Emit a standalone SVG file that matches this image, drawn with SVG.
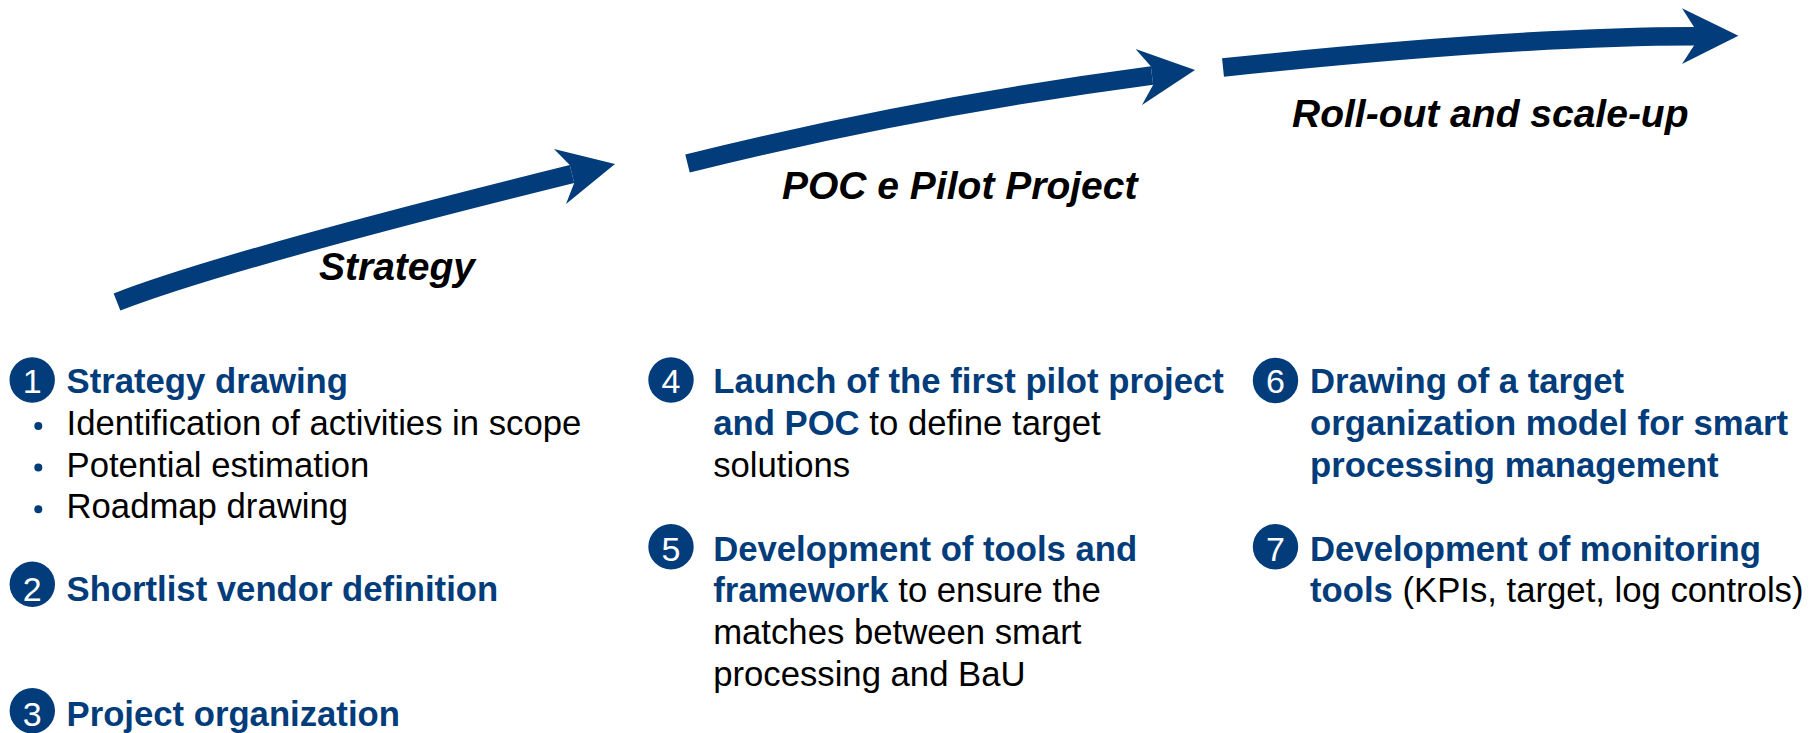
<svg xmlns="http://www.w3.org/2000/svg" width="1817" height="733" viewBox="0 0 1817 733">
<style>
.shaft{fill:none;stroke:#023c7a;stroke-width:18.5;stroke-linecap:butt}
.head{fill:#023c7a}
.phase{font-family:"Liberation Sans",Arial,sans-serif;font-size:39px;font-weight:bold;font-style:italic;fill:#000}
.t{font-family:"Liberation Sans",Arial,sans-serif;font-size:34.7px;fill:#000}
.b{font-weight:bold;fill:#023c7a}
.num{font-family:"Liberation Sans",Arial,sans-serif;font-size:34px;fill:#fff;text-anchor:middle}
.circ{fill:#023c7a}
.dot{fill:#023c7a}
</style>
<rect width="1817" height="733" fill="#fff"/>
<g id="connectors">
<path class="shaft" d="M117,302 Q225,260 572,174"/>
<polygon class="head" points="554,149 615,164 566,204 574.2,183 569.8,165"/>
<path class="shaft" d="M687.5,163.5 Q914,107 1152,75.5"/>
<polygon class="head" points="1135.6,49 1195,70 1142,105 1153.2,84.7 1150.8,66.3"/>
<path class="shaft" d="M1223,67.5 Q1521,36.2 1694,36.2"/>
<polygon class="head" points="1682,8.3 1738.4,35.7 1682,64 1694,45.5 1694,27"/>
</g>
<g id="phase-strategy"><text class="phase" x="319" y="280">Strategy</text></g>
<g id="phase-poc"><text class="phase" x="782" y="199">POC e Pilot Project</text></g>
<g id="phase-rollout"><text class="phase" x="1292" y="127">Roll-out and scale-up</text></g>
<g id="step1">
<circle class="circ" cx="32.2" cy="380" r="22.7"/>
<text class="num" x="32.2" y="393.3">1</text>
<text class="t b" x="66.5" y="393.3">Strategy drawing</text>
<circle class="dot" cx="38.3" cy="426" r="4"/>
<text class="t" x="66.5" y="435">Identification of activities in scope</text>
<circle class="dot" cx="38.3" cy="467.6" r="4"/>
<text class="t" x="66.5" y="476.6">Potential estimation</text>
<circle class="dot" cx="38.3" cy="509.2" r="4"/>
<text class="t" x="66.5" y="518.2">Roadmap drawing</text>
</g>
<g id="step2">
<circle class="circ" cx="32.3" cy="584.2" r="22.7"/>
<text class="num" x="32.3" y="601">2</text>
<text class="t b" x="66.5" y="601">Shortlist vendor definition</text>
</g>
<g id="step3">
<circle class="circ" cx="32.3" cy="710.8" r="22.7"/>
<text class="num" x="32.3" y="725.7">3</text>
<text class="t b" x="66.5" y="725.7">Project organization</text>
</g>
<g id="step4">
<circle class="circ" cx="671" cy="380" r="22.7"/>
<text class="num" x="671" y="393.3">4</text>
<text class="t b" x="713.2" y="393.3">Launch of the first pilot project</text>
<text class="t" x="713.2" y="435"><tspan class="b">and POC</tspan> to define target</text>
<text class="t" x="713.2" y="476.6">solutions</text>
</g>
<g id="step5">
<circle class="circ" cx="671" cy="546.7" r="22.7"/>
<text class="num" x="671" y="560.7">5</text>
<text class="t b" x="713.2" y="560.7">Development of tools and</text>
<text class="t" x="713.2" y="602.3"><tspan class="b">framework</tspan> to ensure the</text>
<text class="t" x="713.2" y="644">matches between smart</text>
<text class="t" x="713.2" y="685.6">processing and BaU</text>
</g>
<g id="step6">
<circle class="circ" cx="1275.5" cy="380.5" r="22.7"/>
<text class="num" x="1275.5" y="393.3">6</text>
<text class="t b" x="1310" y="393.3">Drawing of a target</text>
<text class="t b" x="1310" y="435">organization model for smart</text>
<text class="t b" x="1310" y="476.6">processing management</text>
</g>
<g id="step7">
<circle class="circ" cx="1275.5" cy="546.7" r="22.7"/>
<text class="num" x="1275.5" y="560.7">7</text>
<text class="t b" x="1310" y="560.7">Development of monitoring</text>
<text class="t" x="1310" y="602.3"><tspan class="b">tools</tspan> (KPIs, target, log controls)</text>
</g>
</svg>
